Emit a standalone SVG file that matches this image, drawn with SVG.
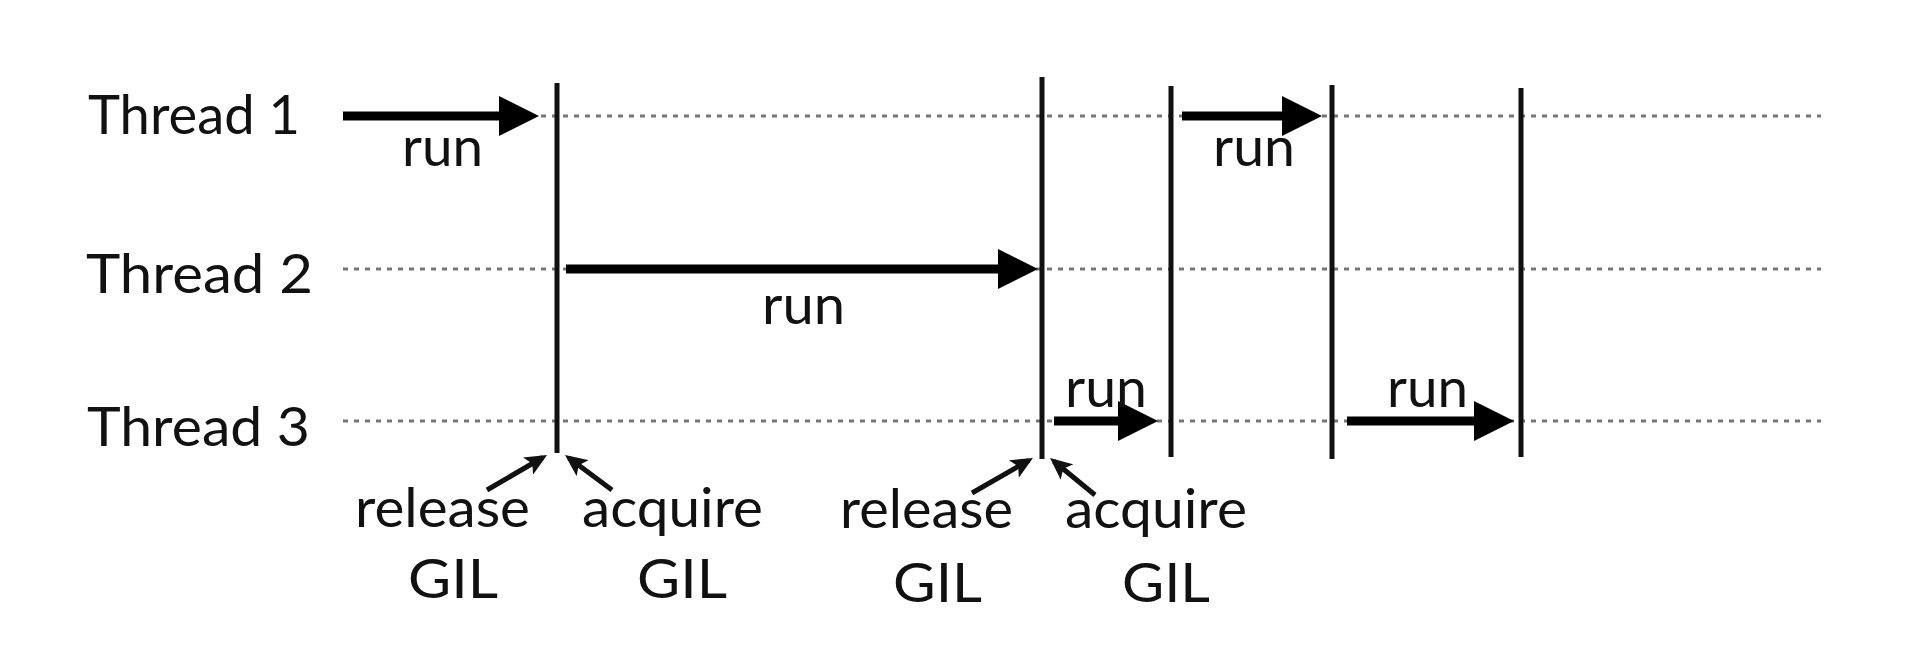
<svg xmlns="http://www.w3.org/2000/svg" width="1920" height="668" viewBox="0 0 1920 668">
<style>
.bg{fill:#ffffff}
.lbl{font-family:Lato,"Open Sans","Liberation Sans",sans-serif;font-size:54px;fill:#111}
.dot{stroke:#777;stroke-width:2.8;stroke-dasharray:5 6;fill:none}
.bar{stroke:#111;stroke-width:5;fill:none;stroke-linecap:butt}
.run{stroke:#000;stroke-width:9;fill:none;marker-end:url(#big)}
.gil{stroke:#111;stroke-width:5;fill:none;marker-end:url(#small)}
</style>
<defs>
<marker id="big" markerUnits="userSpaceOnUse" viewBox="0 -20 40 40" refX="1" refY="0" markerWidth="40" markerHeight="40" orient="auto">
<path d="M0,-20 L40,0 L0,20 z" fill="#000"/>
</marker>
<marker id="small" markerUnits="userSpaceOnUse" viewBox="0 -10 22 20" refX="17" refY="0" markerWidth="22" markerHeight="20" orient="auto">
<path d="M0,-10 L22,0 L0,10 L5,0 z" fill="#111"/>
</marker>
</defs>
<rect class="bg" x="0" y="0" width="1920" height="668"/>
<g id="thread1">
<text class="lbl" x="88" y="134" textLength="212" lengthAdjust="spacingAndGlyphs">Thread 1</text>
<line class="dot" x1="343" y1="116" x2="1821" y2="116"/>
</g>
<g id="thread2">
<text class="lbl" x="86" y="293" textLength="227" lengthAdjust="spacingAndGlyphs">Thread 2</text>
<line class="dot" x1="343" y1="269" x2="1821" y2="269"/>
</g>
<g id="thread3">
<text class="lbl" x="87" y="446" textLength="223" lengthAdjust="spacingAndGlyphs">Thread 3</text>
<line class="dot" x1="343" y1="421" x2="1821" y2="421"/>
</g>
<g id="switches">
<line class="bar" x1="557" y1="83" x2="557" y2="453"/>
<line class="bar" x1="1042" y1="77" x2="1042" y2="459"/>
<line class="bar" x1="1171" y1="86" x2="1171" y2="457"/>
<line class="bar" x1="1332" y1="85" x2="1332" y2="459"/>
<line class="bar" x1="1521" y1="88" x2="1521" y2="457"/>
</g>
<g id="connectors">
<path class="run" d="M343,116 H500"/>
<path class="run" d="M566,269 H999"/>
<path class="run" d="M1182,116 H1283"/>
<path class="run" d="M1054,421 H1119"/>
<path class="run" d="M1347,421 H1475"/>
<path class="gil" d="M487,490 L542.7,457.5"/>
<path class="gil" d="M612,490 L569,458"/>
<path class="gil" d="M972,493 L1028.6,460.5"/>
<path class="gil" d="M1095,495 L1053.9,461.2"/>
</g>
<g id="run-labels">
<text class="lbl" x="402" y="166" textLength="81" lengthAdjust="spacingAndGlyphs">run</text>
<text class="lbl" x="762" y="324" textLength="83" lengthAdjust="spacingAndGlyphs">run</text>
<text class="lbl" x="1213" y="166" textLength="82" lengthAdjust="spacingAndGlyphs">run</text>
<text class="lbl" x="1065" y="407" textLength="82" lengthAdjust="spacingAndGlyphs">run</text>
<text class="lbl" x="1387" y="407" textLength="81" lengthAdjust="spacingAndGlyphs">run</text>
</g>
<g id="release1">
<text class="lbl" x="355" y="527" textLength="175" lengthAdjust="spacingAndGlyphs">release</text>
<text class="lbl" x="408" y="598" textLength="90" lengthAdjust="spacingAndGlyphs">GIL</text>
</g>
<g id="acquire1">
<text class="lbl" x="582" y="527" textLength="181" lengthAdjust="spacingAndGlyphs">acquire</text>
<text class="lbl" x="637" y="598" textLength="90" lengthAdjust="spacingAndGlyphs">GIL</text>
</g>
<g id="release2">
<text class="lbl" x="840" y="528" textLength="173" lengthAdjust="spacingAndGlyphs">release</text>
<text class="lbl" x="893" y="602" textLength="89" lengthAdjust="spacingAndGlyphs">GIL</text>
</g>
<g id="acquire2">
<text class="lbl" x="1065" y="528" textLength="182" lengthAdjust="spacingAndGlyphs">acquire</text>
<text class="lbl" x="1122" y="602" textLength="88" lengthAdjust="spacingAndGlyphs">GIL</text>
</g>
</svg>
